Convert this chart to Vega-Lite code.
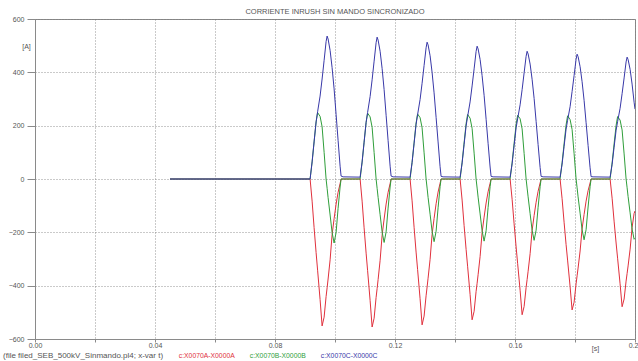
{
  "$schema": "https://vega.github.io/schema/vega-lite/v6.json",
  "width": 600,
  "height": 320,
  "autosize": {"type": "none"},
  "padding": {"left": 35, "top": 19, "right": 3, "bottom": 22},
  "background": "white",
  "title": {
    "text": "CORRIENTE INRUSH SIN MANDO SINCRONIZADO",
    "font": "Liberation Sans",
    "fontSize": 7.5,
    "fontWeight": "normal",
    "color": "#555555",
    "anchor": "middle",
    "offset": 0
  },
  "config": {
    "view": {"stroke": "#8a8a8a", "strokeWidth": 1},
    "axis": {
      "labelFont": "Liberation Sans",
      "labelFontSize": 7,
      "labelColor": "#555555",
      "titleFont": "Liberation Sans",
      "titleFontSize": 7,
      "titleFontWeight": "normal",
      "titleColor": "#555555",
      "domainColor": "#8a8a8a",
      "tickColor": "#8a8a8a",
      "gridColor": "#7a7a7a",
      "gridDash": [1, 2],
      "gridOpacity": 0.8,
      "labelOverlap": false,
      "labelBound": false,
      "labelFlush": false
    }
  },
  "data": {
    "values": [
      {"t": 0.045, "A": 0, "B": 0, "C": 0},
      {"t": 0.0917, "A": 0, "B": 0, "C": 0},
      {"t": 0.09237, "A": -83, "B": 64, "C": 64},
      {"t": 0.09303, "A": -182, "B": 139, "C": 139},
      {"t": 0.0937, "A": -276, "B": 214, "C": 214},
      {"t": 0.0942, "A": -342, "B": 249, "C": 252},
      {"t": 0.09503, "A": -452, "B": 235, "C": 311},
      {"t": 0.0957, "A": -551, "B": 196, "C": 375},
      {"t": 0.09637, "A": -518, "B": 100, "C": 445},
      {"t": 0.09703, "A": -441, "B": 0, "C": 515},
      {"t": 0.09737, "A": -408, "B": -35, "C": 536},
      {"t": 0.0977, "A": -375, "B": -70, "C": 525},
      {"t": 0.09837, "A": -303, "B": -135, "C": 482},
      {"t": 0.09903, "A": -209, "B": -200, "C": 418},
      {"t": 0.0997, "A": -149, "B": -240, "C": 338},
      {"t": 0.10037, "A": -94, "B": -200, "C": 241},
      {"t": 0.10103, "A": -50, "B": -110, "C": 145},
      {"t": 0.1017, "A": -17, "B": -30, "C": 48},
      {"t": 0.10203, "A": 0, "B": 0, "C": 11},
      {"t": 0.1027, "A": 0, "B": 0, "C": 8},
      {"t": 0.10837, "A": 0, "B": 0, "C": 7},
      {"t": 0.10904, "A": -83, "B": 63, "C": 64},
      {"t": 0.1097, "A": -183, "B": 138, "C": 138},
      {"t": 0.11037, "A": -278, "B": 212, "C": 213},
      {"t": 0.11087, "A": -344, "B": 247, "C": 250},
      {"t": 0.1117, "A": -455, "B": 233, "C": 309},
      {"t": 0.11237, "A": -555, "B": 194, "C": 372},
      {"t": 0.11304, "A": -522, "B": 99, "C": 442},
      {"t": 0.1137, "A": -444, "B": 0, "C": 511},
      {"t": 0.11404, "A": -411, "B": -35, "C": 532},
      {"t": 0.11437, "A": -377, "B": -69, "C": 521},
      {"t": 0.11504, "A": -305, "B": -134, "C": 479},
      {"t": 0.1157, "A": -211, "B": -198, "C": 415},
      {"t": 0.11637, "A": -150, "B": -238, "C": 335},
      {"t": 0.11704, "A": -94, "B": -198, "C": 239},
      {"t": 0.1177, "A": -50, "B": -109, "C": 144},
      {"t": 0.11837, "A": -17, "B": -30, "C": 48},
      {"t": 0.1187, "A": 0, "B": 0, "C": 11},
      {"t": 0.11937, "A": 0, "B": 0, "C": 8},
      {"t": 0.12503, "A": 0, "B": 0, "C": 7},
      {"t": 0.1257, "A": -82, "B": 63, "C": 62},
      {"t": 0.12636, "A": -181, "B": 136, "C": 133},
      {"t": 0.12703, "A": -274, "B": 210, "C": 205},
      {"t": 0.12753, "A": -339, "B": 244, "C": 241},
      {"t": 0.12836, "A": -449, "B": 230, "C": 298},
      {"t": 0.12903, "A": -547, "B": 192, "C": 359},
      {"t": 0.1297, "A": -514, "B": 98, "C": 426},
      {"t": 0.13036, "A": -438, "B": 0, "C": 492},
      {"t": 0.1307, "A": -405, "B": -34, "C": 513},
      {"t": 0.13103, "A": -372, "B": -69, "C": 503},
      {"t": 0.1317, "A": -301, "B": -132, "C": 462},
      {"t": 0.13236, "A": -208, "B": -196, "C": 400},
      {"t": 0.13303, "A": -148, "B": -235, "C": 323},
      {"t": 0.1337, "A": -93, "B": -196, "C": 231},
      {"t": 0.13436, "A": -49, "B": -108, "C": 139},
      {"t": 0.13503, "A": -16, "B": -29, "C": 46},
      {"t": 0.13536, "A": 0, "B": 0, "C": 10},
      {"t": 0.13603, "A": 0, "B": 0, "C": 8},
      {"t": 0.1417, "A": 0, "B": 0, "C": 7},
      {"t": 0.14237, "A": -79, "B": 62, "C": 60},
      {"t": 0.14303, "A": -174, "B": 135, "C": 129},
      {"t": 0.1437, "A": -264, "B": 208, "C": 199},
      {"t": 0.1442, "A": -327, "B": 242, "C": 234},
      {"t": 0.14503, "A": -433, "B": 228, "C": 289},
      {"t": 0.1457, "A": -528, "B": 190, "C": 349},
      {"t": 0.14637, "A": -496, "B": 97, "C": 413},
      {"t": 0.14703, "A": -422, "B": 0, "C": 478},
      {"t": 0.14737, "A": -391, "B": -34, "C": 498},
      {"t": 0.1477, "A": -359, "B": -68, "C": 488},
      {"t": 0.14837, "A": -290, "B": -131, "C": 448},
      {"t": 0.14903, "A": -201, "B": -194, "C": 388},
      {"t": 0.1497, "A": -143, "B": -233, "C": 314},
      {"t": 0.15037, "A": -90, "B": -194, "C": 224},
      {"t": 0.15103, "A": -48, "B": -107, "C": 134},
      {"t": 0.1517, "A": -16, "B": -29, "C": 45},
      {"t": 0.15203, "A": 0, "B": 0, "C": 10},
      {"t": 0.1527, "A": 0, "B": 0, "C": 8},
      {"t": 0.15837, "A": 0, "B": 0, "C": 7},
      {"t": 0.15904, "A": -76, "B": 61, "C": 57},
      {"t": 0.1597, "A": -168, "B": 133, "C": 125},
      {"t": 0.16037, "A": -255, "B": 205, "C": 192},
      {"t": 0.16087, "A": -316, "B": 239, "C": 225},
      {"t": 0.1617, "A": -417, "B": 226, "C": 278},
      {"t": 0.16237, "A": -509, "B": 188, "C": 335},
      {"t": 0.16304, "A": -478, "B": 96, "C": 398},
      {"t": 0.1637, "A": -407, "B": 0, "C": 460},
      {"t": 0.16404, "A": -377, "B": -34, "C": 479},
      {"t": 0.16437, "A": -346, "B": -67, "C": 469},
      {"t": 0.16504, "A": -280, "B": -130, "C": 431},
      {"t": 0.1657, "A": -193, "B": -192, "C": 374},
      {"t": 0.16637, "A": -137, "B": -230, "C": 302},
      {"t": 0.16704, "A": -87, "B": -192, "C": 216},
      {"t": 0.1677, "A": -46, "B": -106, "C": 129},
      {"t": 0.16837, "A": -15, "B": -29, "C": 43},
      {"t": 0.1687, "A": 0, "B": 0, "C": 10},
      {"t": 0.16937, "A": 0, "B": 0, "C": 8},
      {"t": 0.17503, "A": 0, "B": 0, "C": 7},
      {"t": 0.1757, "A": -74, "B": 61, "C": 56},
      {"t": 0.17636, "A": -162, "B": 132, "C": 122},
      {"t": 0.17703, "A": -246, "B": 203, "C": 187},
      {"t": 0.17753, "A": -304, "B": 237, "C": 220},
      {"t": 0.17836, "A": -403, "B": 223, "C": 271},
      {"t": 0.17903, "A": -491, "B": 186, "C": 328},
      {"t": 0.1797, "A": -462, "B": 95, "C": 388},
      {"t": 0.18036, "A": -393, "B": 0, "C": 449},
      {"t": 0.1807, "A": -363, "B": -33, "C": 468},
      {"t": 0.18103, "A": -334, "B": -67, "C": 459},
      {"t": 0.1817, "A": -270, "B": -128, "C": 421},
      {"t": 0.18236, "A": -187, "B": -190, "C": 365},
      {"t": 0.18303, "A": -133, "B": -228, "C": 295},
      {"t": 0.1837, "A": -83, "B": -190, "C": 211},
      {"t": 0.18436, "A": -44, "B": -105, "C": 126},
      {"t": 0.18503, "A": -15, "B": -29, "C": 42},
      {"t": 0.18536, "A": 0, "B": 0, "C": 9},
      {"t": 0.18603, "A": 0, "B": 0, "C": 8},
      {"t": 0.1917, "A": 0, "B": 0, "C": 7},
      {"t": 0.19237, "A": -72, "B": 60, "C": 55},
      {"t": 0.19303, "A": -158, "B": 131, "C": 119},
      {"t": 0.1937, "A": -240, "B": 201, "C": 183},
      {"t": 0.1942, "A": -297, "B": 234, "C": 215},
      {"t": 0.19503, "A": -393, "B": 221, "C": 265},
      {"t": 0.1957, "A": -479, "B": 184, "C": 320},
      {"t": 0.19637, "A": -450, "B": 94, "C": 379},
      {"t": 0.19703, "A": -383, "B": 0, "C": 439},
      {"t": 0.19737, "A": -354, "B": -33, "C": 457},
      {"t": 0.1977, "A": -326, "B": -66, "C": 448},
      {"t": 0.19837, "A": -263, "B": -127, "C": 411},
      {"t": 0.19903, "A": -182, "B": -188, "C": 356},
      {"t": 0.1997, "A": -129, "B": -226, "C": 288},
      {"t": 0.2, "A": -120, "B": -222, "C": 262}
    ]
  },
  "transform": [{"fold": ["A", "B", "C"], "as": ["fase", "corriente"]}],
  "mark": {"type": "line", "strokeWidth": 1, "clip": true},
  "encoding": {
    "x": {
      "field": "t",
      "type": "quantitative",
      "scale": {"domain": [0, 0.2], "nice": false, "zero": false},
      "axis": {
        "values": [0, 0.02, 0.04, 0.06, 0.08, 0.1, 0.12, 0.14, 0.16, 0.18, 0.2],
        "labelExpr": "round(datum.value * 100) % 4 == 0 ? format(datum.value, '.2f') : ''",
        "grid": true,
        "tickSize": 3,
        "labelPadding": -1,
        "title": "[s]",
        "titleX": 560,
        "titleY": 9,
        "titleAlign": "center",
        "titleBaseline": "middle"
      }
    },
    "y": {
      "field": "corriente",
      "type": "quantitative",
      "scale": {"domain": [-600, 600], "nice": false},
      "axis": {
        "values": [-600, -400, -200, 0, 200, 400, 600],
        "grid": true,
        "tickSize": 8,
        "labelPadding": 3,
        "title": "[A]",
        "titleAngle": 0,
        "titleX": -9,
        "titleY": 27,
        "titleAlign": "center",
        "titleBaseline": "middle"
      }
    },
    "color": {
      "field": "fase",
      "type": "nominal",
      "scale": {"domain": ["A", "B", "C"], "range": ["#e0303c", "#2f9e3a", "#3838a8"]},
      "legend": {
        "orient": "none",
        "legendX": -32,
        "legendY": 333,
        "direction": "horizontal",
        "title": "(file filed_SEB_500kV_Sinmando.pl4; x-var t)",
        "titleOrient": "left",
        "titleFont": "Liberation Sans",
        "titleFontSize": 8,
        "titleFontWeight": "normal",
        "titleColor": "#555555",
        "titlePadding": 8,
        "labelFont": "Liberation Sans",
        "labelFontSize": 6.8,
        "labelOffset": 0,
        "labelExpr": "'c:X0070' + datum.label + '-X0000' + datum.label",
        "symbolSize": 0,
        "symbolStrokeWidth": 0,
        "symbolOpacity": 0,
        "columnPadding": 8,
        "encode": {"labels": {"update": {"fill": {"scale": "color", "field": "value"}}}}
      }
    }
  }
}
